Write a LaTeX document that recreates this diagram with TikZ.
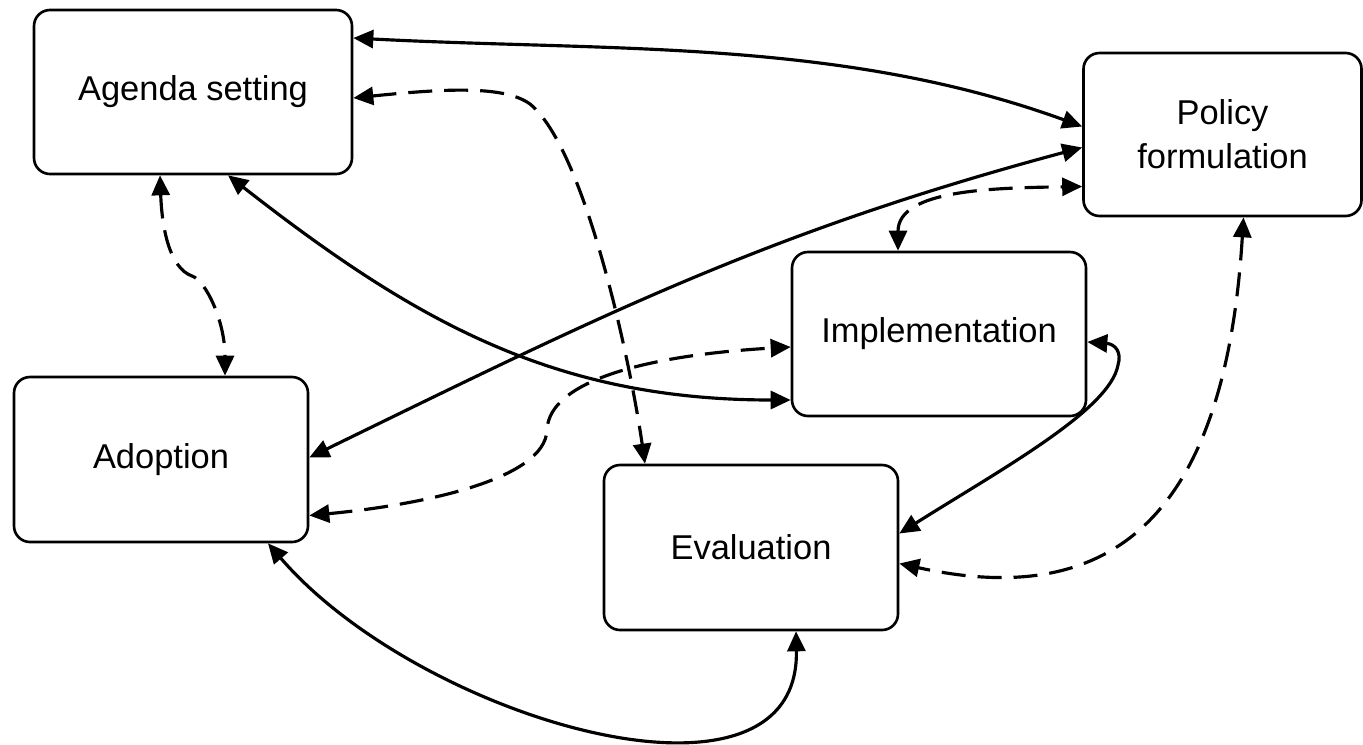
\documentclass[tikz,border=0pt]{standalone}
\usepackage{fontspec}
\setmainfont{Liberation Sans}
\usetikzlibrary{arrows.meta}
\tikzset{
  stagenode/.style = {draw, rounded corners=0.16cm, align=center, line width=0.75pt, minimum width=2.94cm, minimum height=1.64cm, inner sep=0pt, font=\fontsize{9.8}{12.5}\selectfont},
  link/.style = {<->, >={Triangle[length=0.2cm, width=0.18cm]}, line width=0.9pt},
  dash_link/.style = {link, dash pattern=on 0.24cm off 0.12cm}
}

\begin{document}
\begin{tikzpicture}
  \useasboundingbox (0,0) rectangle (13.63,7.44);
  \node [stagenode, minimum width=3.18cm] (agenda) at (1.93,6.52) {Agenda setting};
  \node [stagenode, minimum width=2.78cm, minimum height=1.63cm] (policy) at (12.225,6.095) {Policy\\formulation};
  \node [stagenode] (impl) at (9.39,4.10) {Implementation};
  \node [stagenode, minimum height=1.65cm] (adoption) at (1.61,2.845) {Adoption};
  \node [stagenode, minimum height=1.65cm] (evaluation) at (7.51,1.965) {Evaluation};

  \draw [link] ([yshift=0.54cm]agenda.east) to[out=-3, in=160, looseness=0.9] ([yshift=0.08cm]policy.west);
  \draw [dash_link] ([yshift=-0.06cm]agenda.east) .. controls (4.50,6.56) and (5.05,6.58) .. (5.30,6.40) .. controls (5.85,5.95) and (6.30,3.84) .. ([xshift=-1.06cm]evaluation.north);
  \draw [dash_link] ([xshift=-0.33cm]agenda.south) .. controls (1.62,5.14) and (1.70,4.76) .. (1.92,4.68) .. controls (2.05,4.64) and (2.25,4.24) .. ([xshift=0.64cm]adoption.north);
  \draw [link] ([xshift=0.35cm]agenda.south) to[out=-38, in=180] ([yshift=-0.66cm]impl.west);
  \draw [link] ([yshift=0.02cm]adoption.east) to[out=26, in=-165] ([yshift=-0.13cm]policy.west);
  \draw [dash_link] ([yshift=-0.56cm]adoption.east) .. controls (4.20,2.39) and (5.45,2.64) .. (5.47,3.14) .. controls (5.49,3.64) and (6.50,3.89) .. ([yshift=-0.13cm]impl.west);
  \draw [dash_link] ([xshift=-0.41cm]impl.north) .. controls (8.98,5.54) and (9.90,5.56) .. ([yshift=-0.52cm]policy.west);
  \draw [link] ([yshift=-0.08cm]impl.east) .. controls (11.15,4.00) and (11.22,3.92) .. (11.18,3.79) .. controls (11.10,3.34) and (10.00,2.74) .. ([yshift=0.14cm]evaluation.east);
  \draw [dash_link] ([xshift=0.21cm]policy.south) .. controls (12.25,2.24) and (11.10,1.34) .. ([yshift=-0.16cm]evaluation.east);
  \draw [link] ([xshift=1.07cm]adoption.south) .. controls (4.20,0.24) and (8.00,-0.86) .. ([xshift=0.45cm]evaluation.south);
\end{tikzpicture}
\end{document}
